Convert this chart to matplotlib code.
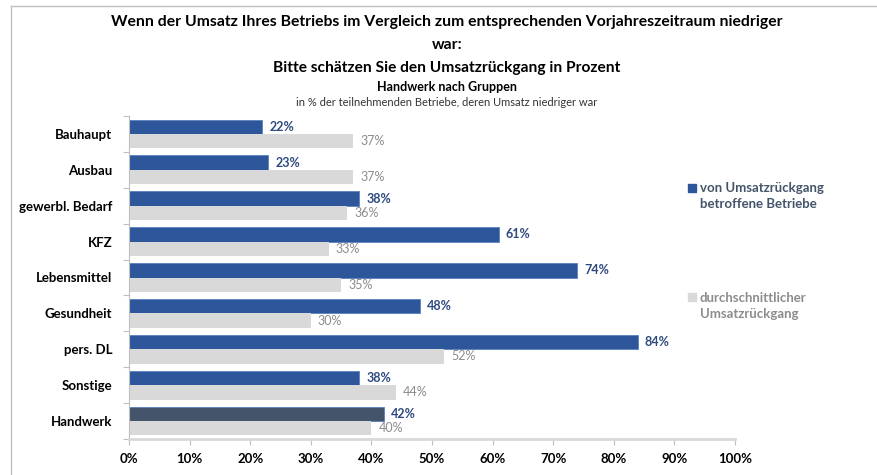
import matplotlib
matplotlib.use("Agg")
import matplotlib.pyplot as plt
from matplotlib.lines import Line2D
import numpy as np

categories = ["Bauhaupt", "Ausbau", "gewerbl. Bedarf", "KFZ", "Lebensmittel",
              "Gesundheit", "pers. DL", "Sonstige", "Handwerk"]
betroffen = [22, 23, 38, 61, 74, 48, 84, 38, 42]
rueckgang = [37, 37, 36, 33, 35, 30, 52, 44, 40]
xticks = [0, 10, 20, 30, 40, 50, 60, 70, 80, 90, 100]

title1 = "Wenn der Umsatz Ihres Betriebs im Vergleich zum entsprechenden Vorjahreszeitraum niedriger"
title2 = "war:"
title3 = "Bitte schätzen Sie den Umsatzrückgang in Prozent"
title4 = "Handwerk nach Gruppen"
title5 = "in % der teilnehmenden Betriebe, deren Umsatz niedriger war"
legend1 = "von Umsatzrückgang\nbetroffene Betriebe"
legend2 = "durchschnittlicher\nUmsatzrückgang"

plt.rcParams['font.family'] = ['Lato', 'DejaVu Sans']

W, H = 877, 475
fig = plt.figure(figsize=(W / 100, H / 100), dpi=100)
ax = fig.add_axes([129 / W, 1 - 439 / H, 606 / W, 323 / H])

blue = "#2E569A"
dark = "#44546A"
gray = "#D9D9D9"
blue_txt = "#2F4A80"
gray_txt = "#8C8C8C"

n = len(categories)
y = np.arange(n)
h = 0.40
blue_colors = [blue] * (n - 1) + [dark]
ax.barh(y - h / 2, betroffen, height=h, color=blue_colors, edgecolor="#5B7FC0", linewidth=0.6)
ax.barh(y + h / 2, rueckgang, height=h, color=gray, edgecolor="none")

for i in range(n):
    ax.annotate(f"{betroffen[i]}%", (betroffen[i], y[i] - h / 2), xytext=(5, 0),
                textcoords="offset points", va="center", ha="left",
                fontsize=9, fontweight="bold", color=blue_txt)
    ax.annotate(f"{rueckgang[i]}%", (rueckgang[i], y[i] + h / 2), xytext=(5, 0),
                textcoords="offset points", va="center", ha="left",
                fontsize=9, color=gray_txt)

ax.set_xlim(0, 100)
ax.set_ylim(n - 0.5, -0.5)
ax.set_xticks(xticks)
ax.set_xticklabels([f"{v}%" for v in xticks], fontsize=9.5, fontweight="bold")
ax.set_yticks(y)
ax.set_yticklabels(categories, fontsize=9.5, fontweight="bold")
ax.tick_params(axis="y", length=0, pad=12)
ax.set_yticks(np.arange(n + 1) - 0.5, minor=True)
ax.tick_params(axis="y", which="minor", length=4, color="#BFBFBF", width=0.8)
ax.tick_params(axis="x", length=4, color="#BFBFBF", width=0.8, pad=6)

for s in ["top", "right"]:
    ax.spines[s].set_visible(False)
ax.spines["left"].set_color("#BFBFBF")
ax.spines["left"].set_linewidth(0.8)
ax.spines["bottom"].set_color("#D9D9D9")
ax.spines["bottom"].set_linewidth(2)

cx = 447 / W
fig.text(cx, 1 - 22 / H, title1, ha="center", va="center", fontsize=11.3, fontweight="bold")
fig.text(cx, 1 - 45 / H, title2, ha="center", va="center", fontsize=11.3, fontweight="bold")
fig.text(cx, 1 - 68 / H, title3, ha="center", va="center", fontsize=11.2, fontweight="bold")
fig.text(cx, 1 - 87 / H, title4, ha="center", va="center", fontsize=9, fontweight="bold")
fig.text(cx, 1 - 102 / H, title5, ha="center", va="center", fontsize=8, color="#333333")

# legend
fig.patches.append(plt.Rectangle((688 / W, 1 - 192 / H), 8 / W, 8 / H, color=blue,
                                 transform=fig.transFigure, figure=fig))
fig.text(700 / W, 1 - 196 / H, legend1, ha="left", va="center", fontsize=9.5,
         fontweight="bold", color="#44546A", linespacing=1.35)
fig.patches.append(plt.Rectangle((688 / W, 1 - 301 / H), 8 / W, 8 / H, color=gray,
                                 transform=fig.transFigure, figure=fig))
fig.text(700 / W, 1 - 306 / H, legend2, ha="left", va="center", fontsize=9.5,
         fontweight="bold", color="#8C8C8C", linespacing=1.35)

# frame lines
fig.add_artist(Line2D([11 / W, 1], [1 - 6 / H, 1 - 6 / H], color="#BFBFBF", lw=1,
                      transform=fig.transFigure))
fig.add_artist(Line2D([11 / W, 11 / W], [0, 1 - 6 / H], color="#BFBFBF", lw=1,
                      transform=fig.transFigure))

fig.savefig("out.png", dpi=100)
